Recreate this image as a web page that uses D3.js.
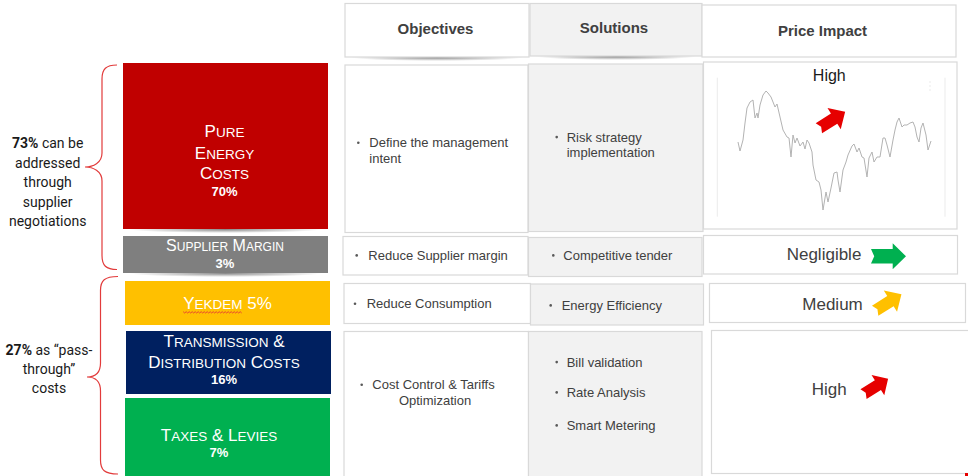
<!DOCTYPE html>
<html>
<head>
<meta charset="utf-8">
<script src="https://cdn.jsdelivr.net/npm/d3@7"></script>
<style>
  html, body { margin: 0; padding: 0; background: #fff; }
  svg { display: block; }
  text { white-space: pre; }
</style>
</head>
<body>
<script>
// cost breakdown + action table

var costLabelLines = [["Pure", "Energy", "Costs"], ["Supplier Margin"], ["Yekdem"], ["Transmission &", "Distribution Costs"], ["Taxes & Levies"]];
var costShares = [70, 3, 5, 16, 7];
var costColors = ["#c00000", "#7f7f7f", "#ffc000", "#002060", "#00b050"];

var headers = ["Objectives", "Solutions", "Price Impact"];
var objectives = [["Define the management", "intent"], ["Reduce Supplier margin"], ["Reduce Consumption"], ["Cost Control & Tariffs", "Optimization"]];
var solutions = [[["Risk strategy", "implementation"]], [["Competitive tender"]], [["Energy Efficiency"]], [["Bill validation"], ["Rate Analysis"], ["Smart Metering"]]];
var impacts = ["High", "Negligible", "Medium", "High"];
var impactColors = ["#e60000", "#00b050", "#ffc000", "#e60000"];

var upperNote = ["73%", " can be", "addressed", "through", "supplier", "negotiations"];
var lowerNote = ["27%", " as \u201cpass-", "through\u201d", "costs"];

// price history sketch inside the first impact cell
var priceDay = [0, 2, 5, 7, 9, 12, 15, 17, 19, 20, 22, 25, 28, 30, 33, 35, 37, 39, 42, 45, 49, 51, 53, 55, 57, 59, 62, 65, 67, 69, 71, 74, 75, 78, 81, 83, 85, 88, 90, 93, 96, 99, 100, 102, 105, 108, 110, 114, 116, 119, 121, 124, 126, 129, 131, 134, 136, 139, 142, 145, 147, 149, 152, 155, 157, 159, 161, 164, 166, 169, 172, 175, 177, 179, 181, 183, 185, 188, 190, 193];
var priceValue = [73, 64, 75, 92, 107, 113, 115, 97, 102, 97, 110, 120, 124, 122, 118, 113, 108, 111, 98, 85, 78, 77, 58, 80, 72, 77, 69, 73, 66, 75, 72, 63, 50, 35, 33, 25, 5, 23, 13, 27, 42, 43, 35, 23, 45, 53, 60, 69, 71, 63, 67, 58, 57, 38, 57, 63, 53, 58, 58, 77, 77, 70, 58, 75, 85, 93, 97, 88, 90, 90, 92, 93, 88, 78, 73, 87, 92, 80, 65, 74];

// ---- layout ----
var blocks = [
  {x0: 123, y0: 63, x1: 328, y1: 229, cx: 224.5, big: 17, small: 13.5, lines: [137.3, 159, 179.3], pct: 196, shadow: true},
  {x0: 123, y0: 236, x1: 328, y1: 273, cx: 225, big: 16, small: 12, lines: [250.7], pct: 268.3, shadow: true},
  {x0: 125, y0: 281, x1: 330, y1: 325, cx: 227.5, big: 17, small: 13.5, lines: [309.3], pct: null},
  {x0: 126, y0: 331, x1: 331, y1: 394, cx: 224, big: 17, small: 13.5, lines: [346.7, 367.7], pct: 384.3},
  {x0: 125, y0: 398, x1: 330, y1: 482, cx: 219, big: 17, small: 13.5, lines: [440.7], pct: 457.3}
];

var headCells = [
  {x0: 345, y0: 3.5, x1: 529, y1: 57, fill: "#fff", tx: 435.5, ty: 34.3, shadow: true},
  {x0: 530, y0: 3.5, x1: 702, y1: 56, fill: "#f2f2f2", tx: 614, ty: 33.3, shadow: true},
  {x0: 702, y0: 5, x1: 956, y1: 57, fill: "#fff", tx: 822.5, ty: 36}
];

var objCells = [
  {x0: 345, y0: 65, x1: 528, y1: 232.5, bx: 358.3, tx: 369.3, ys: [147.3, 163.3]},
  {x0: 343, y0: 236.5, x1: 528, y1: 275, bx: 356.7, tx: 368.3, ys: [260]},
  {x0: 344, y0: 283.5, x1: 530.5, y1: 323.5, bx: 355, tx: 366.7, ys: [308.3]},
  {x0: 344, y0: 331.5, x1: 528.5, y1: 482, bx: 361.7, tx: 372.3, ys: [389.3, 405], wrapCx: 435}
];
var solCells = [
  {x0: 528.5, y0: 64, x1: 703, y1: 231.5, bx: 556.7, tx: 566.7, ys: [[141.7, 157.3]]},
  {x0: 528.5, y0: 237.5, x1: 702, y1: 276.5, bx: 553.3, tx: 563.3, ys: [[260]]},
  {x0: 530.5, y0: 284, x1: 703.5, y1: 325, bx: 550.7, tx: 561.7, ys: [[310]]},
  {x0: 528.5, y0: 331.5, x1: 702, y1: 482, bx: 556.7, tx: 566.7, ys: [[366.7], [397], [430]]}
];
var impCells = [
  {x0: 703.5, y0: 62, x1: 957, y1: 229, tx: 829.3, ty: 81, anchor: "middle", size: 16, color: "#1a1a1a",
   arrow: {cx: 832, cy: 120, angle: -32, L: 31, hl: 13, h: 12.5, s: 6}},
  {x0: 703.5, y0: 235.5, x1: 957.5, y1: 274, tx: 786.7, ty: 260, anchor: "start", size: 17, color: "#404040",
   arrow: {cx: 888.5, cy: 256.3, angle: 0, L: 35, hl: 13.3, h: 13, s: 7.2}},
  {x0: 709.5, y0: 283.5, x1: 965.5, y1: 322.5, tx: 802.3, ty: 310, anchor: "start", size: 17, color: "#404040",
   arrow: {cx: 888.3, cy: 302.5, angle: -32, L: 31, hl: 13, h: 12.5, s: 6}},
  {x0: 711.5, y0: 330.5, x1: 972, y1: 473.5, tx: 811.7, ty: 395, anchor: "start", size: 17, color: "#404040",
   arrow: {cx: 875.8, cy: 386.5, angle: -32, L: 29, hl: 12, h: 12, s: 5.8}}
];

var W = 968, H = 476;
var arial = "'Liberation Sans', Arial, sans-serif";
var svg = d3.select("body").append("svg").attr("width", W).attr("height", H);

var defs = svg.append("defs");
var grad = defs.append("radialGradient").attr("id", "shadowGrad");
grad.append("stop").attr("offset", "0%").attr("stop-color", "#000").attr("stop-opacity", 0.45);
grad.append("stop").attr("offset", "60%").attr("stop-color", "#000").attr("stop-opacity", 0.18);
grad.append("stop").attr("offset", "100%").attr("stop-color", "#000").attr("stop-opacity", 0);

function dropShadow(g, d) {
  g.append("ellipse")
    .attr("cx", (d.x0 + d.x1) / 2).attr("cy", d.y1 + 0.5)
    .attr("rx", (d.x1 - d.x0) * 0.47).attr("ry", 3.5)
    .attr("fill", "url(#shadowGrad)");
}

function smallCaps(sel, str, big, small) {
  str.split(" ").forEach(function(w, i) {
    if (i > 0) sel.append("tspan").attr("font-size", big).text(" ");
    sel.append("tspan").attr("font-size", big).text(w[0].toUpperCase());
    var rest = w.slice(1);
    if (rest) sel.append("tspan").attr("font-size", /[a-z]/.test(rest) ? small : big).text(rest.toUpperCase());
  });
}

// ---- braces ----
var braceG = svg.append("g").attr("fill", "none").attr("stroke", "#e23b3b").attr("stroke-width", 1.2);
function brace(xEnd, xMid, xTip, yTop, yTip, yBot) {
  var p = d3.path();
  p.moveTo(xEnd, yTop);
  p.bezierCurveTo(xMid + 4, yTop, xMid, yTop + 4, xMid, yTop + 14);
  p.lineTo(xMid, yTip - 14);
  p.bezierCurveTo(xMid, yTip - 4, xTip + 8, yTip, xTip, yTip);
  p.bezierCurveTo(xTip + 8, yTip, xMid, yTip + 4, xMid, yTip + 14);
  p.lineTo(xMid, yBot - 14);
  p.bezierCurveTo(xMid, yBot - 4, xMid + 4, yBot, xEnd, yBot);
  return p.toString();
}
braceG.append("path").attr("d", brace(117, 102, 85, 65, 167, 269.5));
braceG.append("path").attr("d", brace(118, 100.5, 87, 276.5, 377, 474));

function note(lines, cx, y0, step) {
  var t = svg.append("text").attr("text-anchor", "middle")
    .attr("font-family", "Roboto, 'Noto Sans', sans-serif").attr("font-size", 14).attr("fill", "#1a1a1a");
  t.append("tspan").attr("x", cx).attr("y", y0).attr("font-weight", "bold").text(lines[0]);
  t.append("tspan").text(lines[1]);
  lines.slice(2).forEach(function(l, i) {
    t.append("tspan").attr("x", cx).attr("y", y0 + step * (i + 1)).text(l);
  });
}
note(upperNote, 47.7, 148.3, 19.4);
note(lowerNote, 49, 355, 19.2);

// ---- cost blocks ----
var blockG = svg.append("g");
blocks.forEach(function(b, i) {
  if (b.shadow) dropShadow(blockG, b);
});
blockG.selectAll("rect.cost").data(blocks).enter().append("rect")
  .attr("class", "cost")
  .attr("x", function(d) { return d.x0; }).attr("y", function(d) { return d.y0; })
  .attr("width", function(d) { return d.x1 - d.x0; }).attr("height", function(d) { return d.y1 - d.y0; })
  .attr("fill", function(d, i) { return costColors[i]; });

blocks.forEach(function(b, i) {
  costLabelLines[i].forEach(function(line, j) {
    var t = blockG.append("text").attr("x", b.cx).attr("y", b.lines[j]).attr("text-anchor", "middle")
      .attr("font-family", arial).attr("fill", "#fff");
    smallCaps(t, line, b.big, b.small);
    if (b.pct === null) {
      // share written inline, with the spell-check squiggle under the name
      var nameLen = t.node().getComputedTextLength();
      t.append("tspan").attr("font-size", b.big).text(" " + costShares[i] + "%");
      var full = t.node().getComputedTextLength();
      var left = b.cx - full / 2;
      var pts = d3.range(0, nameLen + 0.1, 1.5).map(function(dx, k) {
        return [left + dx, b.lines[j] + 2.6 + (k % 2 ? 1.1 : -0.2)];
      });
      blockG.append("path").attr("d", d3.line()(pts)).attr("fill", "none")
        .attr("stroke", "#e53935").attr("stroke-width", 0.9);
    }
  });
  if (b.pct !== null) {
    blockG.append("text").attr("x", b.cx).attr("y", b.pct).attr("text-anchor", "middle")
      .attr("font-family", arial).attr("font-size", 13).attr("font-weight", "bold")
      .attr("fill", "#fff").text(costShares[i] + "%");
  }
});

// ---- table ----
var tableG = svg.append("g");
function cell(d, fill) {
  tableG.append("rect")
    .attr("x", d.x0).attr("y", d.y0).attr("width", d.x1 - d.x0).attr("height", d.y1 - d.y0)
    .attr("fill", fill).attr("stroke", "#d9d9d9").attr("stroke-width", 1.2);
}

headCells.forEach(function(d) { if (d.shadow) dropShadow(tableG, d); });
headCells.forEach(function(d, i) {
  cell(d, d.fill);
  tableG.append("text").attr("x", d.tx).attr("y", d.ty).attr("text-anchor", "middle")
    .attr("font-family", arial).attr("font-size", 15).attr("font-weight", "bold")
    .attr("fill", "#404040").text(headers[i]);
});

function bullet(x, y) {
  tableG.append("circle").attr("cx", x).attr("cy", y - 4.6).attr("r", 1.3).attr("fill", "#595959");
}
function bodyText(x, y, s, anchor) {
  tableG.append("text").attr("x", x).attr("y", y).attr("text-anchor", anchor || "start")
    .attr("font-family", arial).attr("font-size", 13).attr("fill", "#404040").text(s);
}

objCells.forEach(function(d, i) {
  cell(d, "#fff");
  bullet(d.bx, d.ys[0]);
  objectives[i].forEach(function(line, j) {
    if (j > 0 && d.wrapCx) bodyText(d.wrapCx, d.ys[j], line, "middle");
    else bodyText(d.tx, d.ys[j], line);
  });
});

solCells.forEach(function(d, i) {
  cell(d, "#f2f2f2");
  solutions[i].forEach(function(item, k) {
    bullet(d.bx, d.ys[k][0]);
    item.forEach(function(line, j) { bodyText(d.tx, d.ys[k][j], line); });
  });
});

function arrowPath(a) {
  var L = a.L, x1 = L / 2, xh = L / 2 - a.hl, n = a.s * 0.45;
  return d3.line()([[-x1, -a.s], [xh, -a.s], [xh, -a.h], [x1, 0], [xh, a.h], [xh, a.s], [-x1, a.s], [-x1 + n, 0]]) + "Z";
}

impCells.forEach(function(d, i) {
  cell(d, "#fff");
});

// sparkline in the first price cell
var sx = d3.scaleLinear().domain([0, 193]).range([738, 931]);
var sy = d3.scaleLinear().domain([0, 125]).range([215, 90]);
var sparkG = tableG.append("g");
sparkG.selectAll("line.grid").data([717.3, 945]).enter().append("line")
  .attr("x1", function(d) { return d; }).attr("x2", function(d) { return d; })
  .attr("y1", 77.7).attr("y2", 216.7).attr("stroke", "#ebebeb").attr("stroke-width", 1);
sparkG.selectAll("circle.menu").data([0, 1, 2]).enter().append("circle")
  .attr("cx", 930).attr("cy", function(d) { return 82 + d * 4; }).attr("r", 0.7).attr("fill", "#e2e2e2");
sparkG.append("path")
  .datum(priceDay.map(function(d, i) { return [d, priceValue[i]]; }))
  .attr("d", d3.line().x(function(d) { return sx(d[0]); }).y(function(d) { return sy(d[1]); }))
  .attr("fill", "none").attr("stroke", "#b3b3b3").attr("stroke-width", 1);

impCells.forEach(function(d, i) {
  tableG.append("text").attr("x", d.tx).attr("y", d.ty).attr("text-anchor", d.anchor)
    .attr("font-family", arial).attr("font-size", d.size).attr("fill", d.color).text(impacts[i]);
  var a = d.arrow;
  tableG.append("path").attr("d", arrowPath(a))
    .attr("transform", "translate(" + a.cx + "," + a.cy + ") rotate(" + a.angle + ")")
    .attr("fill", impactColors[i]);
});

svg.append("rect").attr("x", 965).attr("y", 473).attr("width", 3).attr("height", 3).attr("fill", "#e60000");
</script>
</body>
</html>
